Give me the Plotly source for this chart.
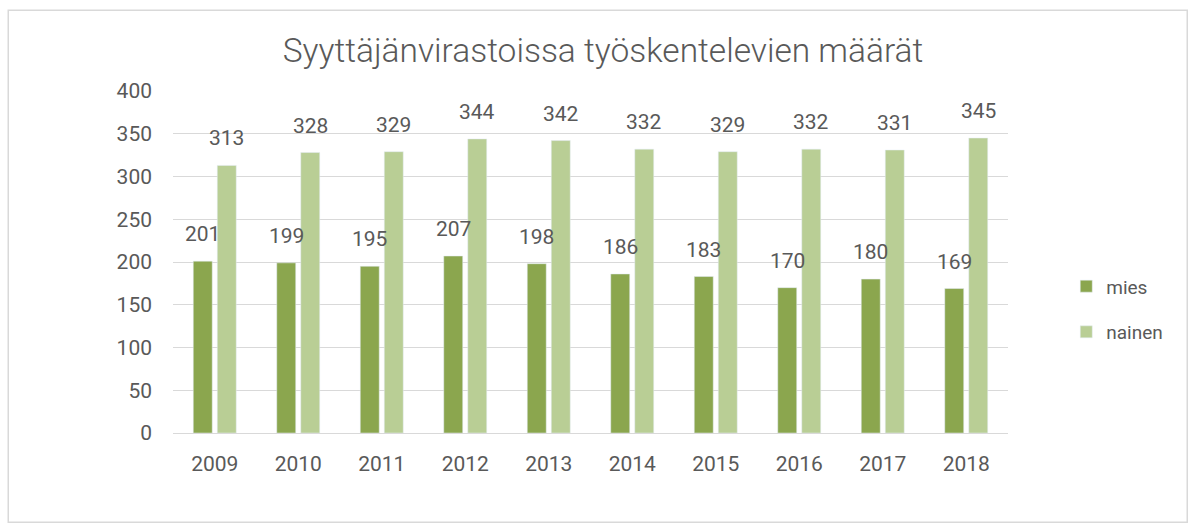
import plotly.graph_objects as go

years = ["2009", "2010", "2011", "2012", "2013", "2014", "2015", "2016", "2017", "2018"]
mies = [201, 199, 195, 207, 198, 186, 183, 170, 180, 169]
nainen = [313, 328, 329, 344, 342, 332, 329, 332, 331, 345]
y_ticks = [0, 50, 100, 150, 200, 250, 300, 350, 400]

C_MIES = "#8BA64E"
C_NAINEN = "#B9CE95"
TXT = "#595959"
FONT = "Roboto"

W, H = 1195, 532
L, R, T, B = 172.75, 187.25, 90.7, 99.3

fig = go.Figure()
fig.add_trace(go.Bar(x=years, y=mies, name="mies", marker_color=C_MIES,
                     legendgroup="a", hoverinfo="x+y+name"))
fig.add_trace(go.Bar(x=years, y=nainen, name="nainen", marker_color=C_NAINEN,
                     legendgroup="b", hoverinfo="x+y+name"))

annotations = []
for series, shift in ((mies, -12), (nainen, 12)):
    for i, yv in enumerate(series):
        annotations.append(dict(x=i, y=yv, xref="x", yref="y", text=str(yv),
                                showarrow=False, xanchor="center", yanchor="bottom",
                                xshift=shift, yshift=13,
                                font=dict(family=FONT, size=21, color=TXT)))

pw = W - L - R
ph = H - T - B
fig.update_layout(
    width=W, height=H,
    margin=dict(l=L, r=R, t=T, b=B, pad=0, autoexpand=False),
    paper_bgcolor="white", plot_bgcolor="white",
    barmode="group", bargap=0.425, bargroupgap=0.21,
    title=dict(text="Syyttäjänvirastoissa työskentelevien määrät",
               x=603 / W, xanchor="center", y=1 - 50 / H, yanchor="middle",
               font=dict(family=FONT, size=33.5, color=TXT, weight=300)),
    legend=dict(x=(1066 - L) / pw, xanchor="left", y=(432.7 - 309) / ph, yanchor="middle",
                font=dict(family=FONT, size=19, color=TXT), tracegroupgap=18,
                bgcolor="rgba(0,0,0,0)"),
    font=dict(family=FONT, color=TXT),
    annotations=annotations,
    shapes=[dict(type="rect", xref="paper", yref="paper",
                 x0=(8 - L) / pw, x1=(1187 - L) / pw,
                 y0=(432.7 - 522) / ph, y1=(432.7 - 10) / ph,
                 line=dict(color="#D9D9D9", width=1.5), fillcolor="rgba(0,0,0,0)",
                 layer="below")],
    showlegend=True,
)
fig.update_xaxes(type="category", categoryorder="array", categoryarray=years,
                 range=[-0.5, len(years) - 0.5], autorange=False,
                 showgrid=False, showline=False, zeroline=False, ticks="",
                 ticklabelstandoff=16,
                 tickfont=dict(family=FONT, size=21, color=TXT))
fig.update_yaxes(range=[0, 400], autorange=False, tickvals=y_ticks, showgrid=True,
                 gridcolor="#D9D9D9",
                 gridwidth=1.3, zeroline=True, zerolinecolor="#D9D9D9", zerolinewidth=1.3,
                 showline=False, ticks="", ticklabelstandoff=20,
                 tickfont=dict(family=FONT, size=21, color=TXT))

fig.write_html("out.html", config={"displayModeBar": False},
               post_script="document.body.style.margin='0';")
